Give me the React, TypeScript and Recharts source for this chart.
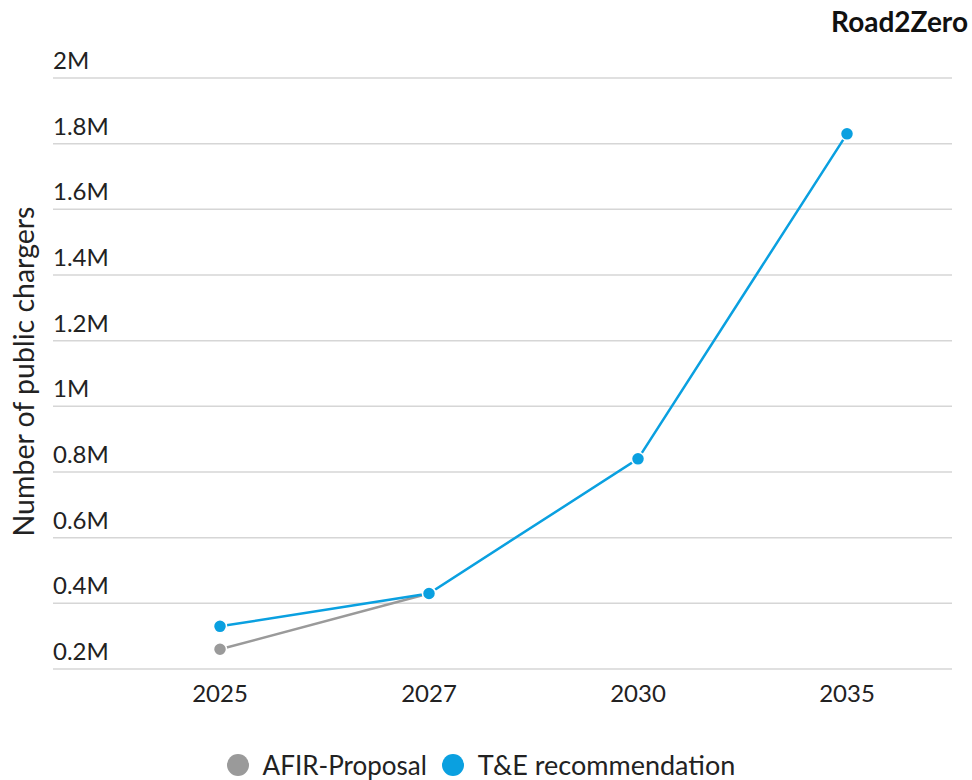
import React from 'react';
import { LineChart, Line, XAxis, YAxis, CartesianGrid } from 'recharts';

const years = ['2025', '2027', '2030', '2035'];
const afirProposal = [0.26, 0.43, null, null];
const teRecommendation = [0.33, 0.43, 0.84, 1.83];
const yTicks = [0.2, 0.4, 0.6, 0.8, 1.0, 1.2, 1.4, 1.6, 1.8, 2.0];
const seriesNames = ['AFIR-Proposal', 'T&E recommendation'];
const seriesColors = ['#9a9a9a', '#0aa0e0'];

const data = years.map((y, i) => ({
  year: y,
  afir: afirProposal[i],
  te: teRecommendation[i],
}));

const FONT = "Lato, 'Open Sans', sans-serif";
const TEXT = '#222';

const fmt = (v: number) => {
  const r = Math.round(v * 10) / 10;
  return (Number.isInteger(r) ? String(r) : r.toFixed(1)) + 'M';
};

const YTick = (props: any) => {
  const { x, y, payload } = props;
  return (
    <text x={x} y={y - 9} textAnchor="start" fontSize={24} fill={TEXT} fontFamily={FONT}>
      {fmt(payload.value)}
    </text>
  );
};

const XTick = (props: any) => {
  const { x, y, payload } = props;
  return (
    <text x={x} y={y + 33} textAnchor="middle" fontSize={24} fill={TEXT} fontFamily={FONT}>
      {payload.value}
    </text>
  );
};

const YLabel = (props: any) => {
  const vb = props.viewBox || {};
  const cx = vb.x - 29;
  const cy = vb.y + vb.height / 2 - 2;
  return (
    <text
      x={cx}
      y={cy}
      transform={`rotate(-90, ${cx}, ${cy})`}
      textAnchor="middle"
      dominantBaseline="central"
      fontSize={28.5}
      fill={TEXT}
      fontFamily={FONT}
    >
      Number of public chargers
    </text>
  );
};

export default function App() {
  return (
    <div style={{ position: 'absolute', left: 0, top: 0, width: 972, height: 780, background: '#fff' }}>
      <div
        style={{
          position: 'absolute',
          right: 4,
          top: 4,
          fontFamily: FONT,
          fontWeight: 700,
          fontSize: 28,
          color: '#111',
        }}
      >
        Road2Zero
      </div>
      <LineChart
        width={972}
        height={780}
        data={data}
        margin={{ top: 78, right: 20, bottom: 81, left: 52 }}
      >
        <CartesianGrid vertical={false} stroke="#d6d6d6" strokeWidth={1.5} />
        <XAxis
          dataKey="year"
          axisLine={false}
          tickLine={false}
          tickSize={0}
          tickMargin={0}
          height={30}
          padding={{ left: 167, right: 105 }}
          tick={<XTick />}
          interval={0}
        />
        <YAxis
          domain={[0.2, 2]}
          ticks={yTicks}
          type="number"
          axisLine={false}
          tickLine={false}
          tickSize={0}
          tickMargin={0}
          width={1}
          tick={<YTick />}
          interval={0}
          allowDataOverflow
          label={<YLabel />}
        />
        <Line
          dataKey="afir"
          name={seriesNames[0]}
          stroke={seriesColors[0]}
          strokeWidth={2.5}
          dot={{ r: 6.5, fill: seriesColors[0], stroke: '#fff', strokeWidth: 1.5 }}
          isAnimationActive={false}
          connectNulls={false}
        />
        <Line
          dataKey="te"
          name={seriesNames[1]}
          stroke={seriesColors[1]}
          strokeWidth={2.5}
          dot={{ r: 6.5, fill: seriesColors[1], stroke: '#fff', strokeWidth: 1.5 }}
          isAnimationActive={false}
        />
      </LineChart>
      <div
        style={{
          position: 'absolute',
          left: 0,
          top: 748,
          width: 962,
          display: 'flex',
          justifyContent: 'center',
          alignItems: 'center',
          fontFamily: FONT,
          fontSize: 26,
          color: TEXT,
        }}
      >
        {seriesNames.map((n, i) => (
          <div key={n} style={{ display: 'flex', alignItems: 'center', marginRight: i === 0 ? 15 : 0 }}>
            <span
              style={{
                display: 'inline-block',
                width: 22,
                height: 22,
                borderRadius: '50%',
                background: seriesColors[i],
                marginRight: 14,
              }}
            />
            <span style={{ fontSize: i === 1 ? 27 : 26 }}>{n}</span>
          </div>
        ))}
      </div>
    </div>
  );
}
